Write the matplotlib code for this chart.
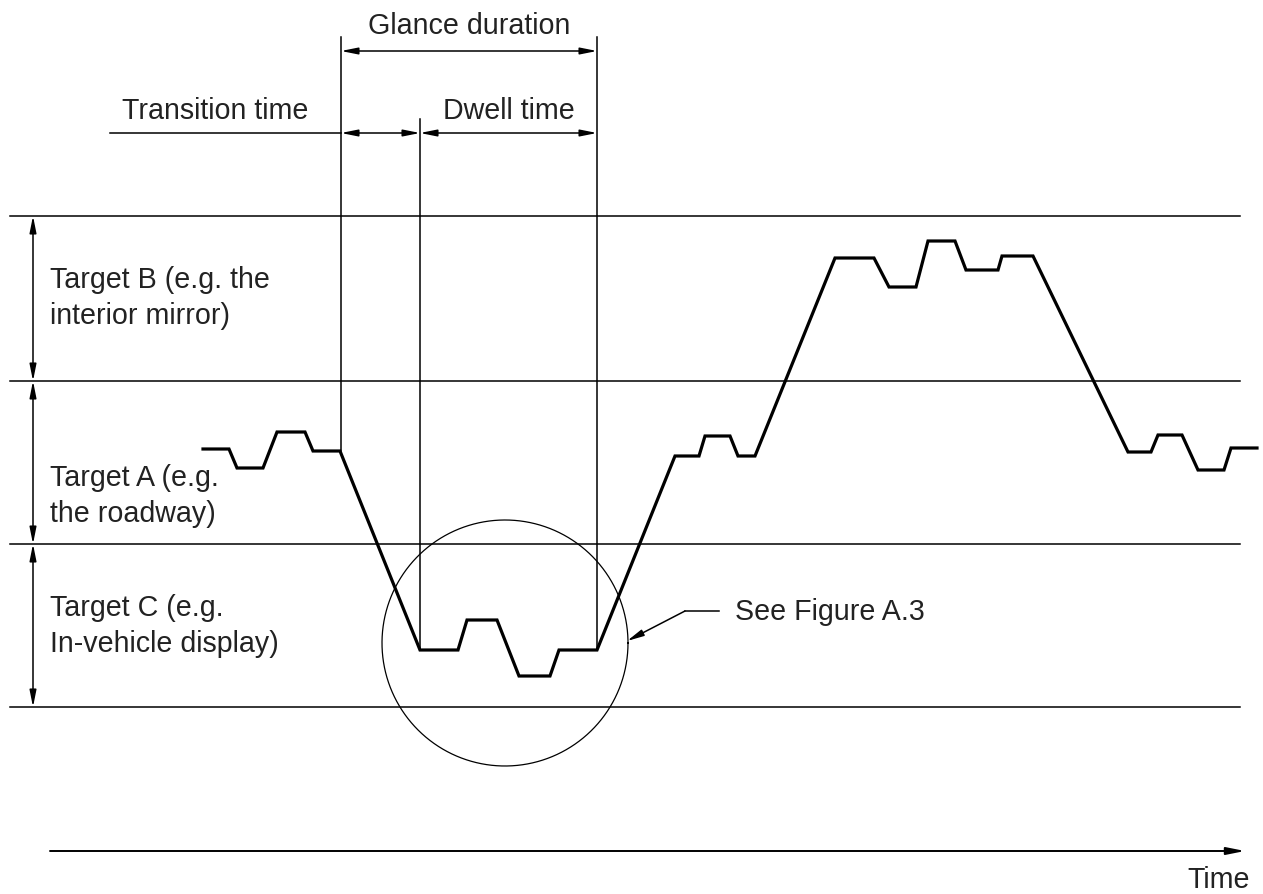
import numpy as np
import matplotlib.pyplot as plt

plt.rcParams['font.family'] = ['Liberation Sans', 'DejaVu Sans']

# boundaries between target zones (top of B, B/A, A/C, bottom of C)
zone_edges = [217, 382, 545, 708]
zone_labels = ["Target B (e.g. the\ninterior mirror)",
               "Target A (e.g.\nthe roadway)",
               "Target C (e.g.\nIn-vehicle display)"]
label_centres = [298, 496, 626]

# gaze trace (time, position)
trace_t = [203, 229, 237, 263, 277, 305, 313, 340, 420, 458, 467, 497, 519, 550,
           559, 597, 675, 699, 705, 730, 738, 755, 835, 874, 889, 916, 928, 955,
           966, 998, 1002, 1033, 1128, 1151, 1158, 1182, 1198, 1224, 1231, 1257]
trace_y = [450, 450, 469, 469, 433, 433, 452, 452, 651, 651, 621, 621, 677, 677,
           651, 651, 457, 457, 437, 437, 457, 457, 259, 259, 288, 288, 242, 242,
           271, 271, 257, 257, 453, 453, 436, 436, 471, 471, 449, 449]

# glance markers: start of transition, start of dwell, end of dwell
glance_start, dwell_start, dwell_end = 341, 420, 597

fig = plt.figure(figsize=(12.63, 8.95), dpi=100)
ax = fig.add_axes([0, 0, 1, 1])
ax.set_xlim(0, 1263)
ax.set_ylim(895, 0)
ax.axis('off')

fs = 20.6
tc = '#222222'
thin = 1.1
arr = dict(arrowstyle='<|-|>,head_length=1.0,head_width=0.2', color='black',
           lw=thin, shrinkA=0, shrinkB=0)

# zone lines
for y in zone_edges:
    ax.plot([10, 1240], [y, y], color='black', lw=thin)

# zone height arrows and labels
for i, lab in enumerate(zone_labels):
    y0, y1 = zone_edges[i], zone_edges[i + 1]
    ax.annotate('', xy=(33, y0), xytext=(33, y1), arrowprops=arr)
    ax.text(50, label_centres[i], lab, fontsize=fs, va='center', ha='left',
            linespacing=1.38, color=tc)

# gaze trace
ax.plot(trace_t, trace_y, color='black', lw=2.3, solid_joinstyle='miter')

# vertical marker lines
ax.plot([glance_start, glance_start], [38, 452], color='black', lw=thin)
ax.plot([dwell_start, dwell_start], [120, 651], color='black', lw=thin)
ax.plot([dwell_end, dwell_end], [38, 651], color='black', lw=thin)

# glance duration
ax.annotate('', xy=(glance_start, 52), xytext=(dwell_end, 52), arrowprops=arr)
ax.text((glance_start + dwell_end) / 2, 26, "Glance duration", fontsize=fs,
        ha='center', va='center', color=tc)

# transition / dwell time
ax.plot([110, glance_start], [134, 134], color='black', lw=thin)
ax.annotate('', xy=(glance_start, 134), xytext=(dwell_start, 134), arrowprops=arr)
ax.annotate('', xy=(dwell_start, 134), xytext=(dwell_end, 134), arrowprops=arr)
ax.text(122, 111, "Transition time", fontsize=fs, ha='left', va='center', color=tc)
ax.text(443, 111, "Dwell time", fontsize=fs, ha='left', va='center', color=tc)

# detail circle and leader
th = np.linspace(0, 2 * np.pi, 300)
ax.plot(505 + 123 * np.cos(th), 644 + 123 * np.sin(th), color='black', lw=0.9)
ax.plot([685, 719], [612, 612], color='black', lw=thin)
ax.annotate('', xy=(627, 642), xytext=(685, 612),
            arrowprops=dict(arrowstyle='-|>,head_length=1.0,head_width=0.2',
                            color='black', lw=thin, shrinkA=0, shrinkB=0))
ax.text(735, 612, "See Figure A.3", fontsize=fs, ha='left', va='center', color=tc)

# time axis
ax.annotate('', xy=(1245, 852), xytext=(50, 852),
            arrowprops=dict(arrowstyle='-|>,head_length=1.1,head_width=0.22',
                            color='black', lw=1.4, shrinkA=0, shrinkB=0))
ax.text(1250, 880, "Time", fontsize=fs, ha='right', va='center', color=tc)

fig.savefig('out.png', dpi=100)
